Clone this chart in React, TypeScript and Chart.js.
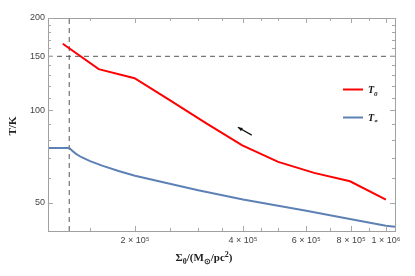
import React, { useEffect, useRef } from "react";
import { Chart, registerables } from "chart.js";

Chart.register(...registerables);

// Data
const redX = [125900, 158500, 199500, 251200, 316200, 398100, 501200, 631000, 794300, 1000000];
const redY = [164.8, 136.2, 127.3, 107.5, 90.7, 76.9, 67.9, 62.5, 58.7, 51.1];
const blueX = [114500, 131200, 133500, 137000, 142000, 150000, 162000, 180000, 200000, 250000, 300000, 400000, 600000, 800000, 1000000, 1060000];
const blueY = [75.4, 75.4, 73.9, 72.1, 70.3, 68.3, 66.0, 63.4, 61.2, 57.6, 54.9, 51.2, 47.0, 44.1, 42.0, 41.7];
const xMin = 114500;
const xMax = 1060000;
const yMin = 40.4;
const yMax = 200;
const vLineX = 131200;
const hLineY = 150;
const xTicks = [200000, 400000, 600000, 800000, 1000000];
const xMinorTicks = [150000, 250000, 300000, 350000, 450000, 500000, 700000, 900000];
const yTicks = [50, 100, 150, 200];
const yMinorTicks = [60, 70, 80, 90, 110, 120, 130, 140, 160, 170, 180, 190];
const arrowTail = { x: 423000, y: 83.0 };
const arrowHead = { x: 387000, y: 88.0 };

const SUP: Record<string, string> = { "0": "⁰", "1": "¹", "2": "²", "3": "³", "4": "⁴", "5": "⁵", "6": "⁶", "7": "⁷", "8": "⁸", "9": "⁹" };

function fmtX(v: number): string {
  const e = Math.floor(Math.log10(v) + 1e-9);
  const m = Math.round(v / Math.pow(10, e));
  return `${m} × 10${String(e).split("").map((c) => SUP[c]).join("")}`;
}

type Seg = { t: string; mode?: "sub" | "sup" };

function drawRich(ctx: CanvasRenderingContext2D, segs: Seg[], cx: number, baseY: number, size: number, style: string, family: string) {
  const fontFor = (s: Seg) => `${style} ${s.mode ? Math.round(size * 0.7) : size}px ${family}`;
  let total = 0;
  for (const s of segs) {
    ctx.font = fontFor(s);
    total += ctx.measureText(s.t).width;
  }
  let x = cx - total / 2;
  for (const s of segs) {
    ctx.font = fontFor(s);
    const dy = s.mode === "sub" ? size * 0.3 : s.mode === "sup" ? -size * 0.4 : 0;
    ctx.fillText(s.t, x, baseY + dy);
    x += ctx.measureText(s.t).width;
  }
}

function drawRichLeft(ctx: CanvasRenderingContext2D, segs: Seg[], x0: number, baseY: number, size: number, style: string, family: string) {
  let x = x0;
  for (const s of segs) {
    ctx.font = `${style} ${s.mode ? Math.round(size * 0.7) : size}px ${family}`;
    const dy = s.mode === "sub" ? size * 0.3 : s.mode === "sup" ? -size * 0.4 : 0;
    ctx.fillText(s.t, x, baseY + dy);
    x += ctx.measureText(s.t).width;
  }
}

const framePlugin = {
  id: "frame",
  afterDraw(chart: any) {
    const { ctx, chartArea: a, scales } = chart;
    const xs = scales.x;
    const ys = scales.y;
    ctx.save();
    // frame
    ctx.strokeStyle = "#a0a0a0";
    ctx.lineWidth = 1;
    ctx.strokeRect(Math.round(a.left) + 0.5, Math.round(a.top) + 0.5, Math.round(a.right - a.left), Math.round(a.bottom - a.top));
    // ticks
    ctx.strokeStyle = "#a8a8a8";
    const tickX = (v: number, len: number) => {
      const px = Math.round(xs.getPixelForValue(v)) + 0.5;
      ctx.beginPath();
      ctx.moveTo(px, a.bottom);
      ctx.lineTo(px, a.bottom - len);
      ctx.moveTo(px, a.top);
      ctx.lineTo(px, a.top + len);
      ctx.stroke();
    };
    const tickY = (v: number, len: number) => {
      const py = Math.round(ys.getPixelForValue(v)) + 0.5;
      ctx.beginPath();
      ctx.moveTo(a.left, py);
      ctx.lineTo(a.left + len, py);
      ctx.moveTo(a.right, py);
      ctx.lineTo(a.right - len, py);
      ctx.stroke();
    };
    xTicks.forEach((v) => tickX(v, 5));
    xMinorTicks.forEach((v) => tickX(v, 3));
    yTicks.forEach((v) => tickY(v, 5));
    yMinorTicks.forEach((v) => tickY(v, 3));

    // arrow
    const tx = xs.getPixelForValue(arrowTail.x);
    const ty = ys.getPixelForValue(arrowTail.y);
    const hx = xs.getPixelForValue(arrowHead.x);
    const hy = ys.getPixelForValue(arrowHead.y);
    ctx.strokeStyle = "#111";
    ctx.fillStyle = "#111";
    ctx.lineWidth = 1.2;
    ctx.beginPath();
    ctx.moveTo(tx, ty);
    ctx.lineTo(hx, hy);
    ctx.stroke();
    const ang = Math.atan2(hy - ty, hx - tx);
    const hl = 5;
    ctx.beginPath();
    ctx.moveTo(hx, hy);
    ctx.lineTo(hx - hl * Math.cos(ang - 0.4), hy - hl * Math.sin(ang - 0.4));
    ctx.lineTo(hx - hl * Math.cos(ang + 0.4), hy - hl * Math.sin(ang + 0.4));
    ctx.closePath();
    ctx.fill();

    // legend
    const lx0 = a.right - 52;
    const lx1 = a.right - 32;
    ctx.lineWidth = 2;
    ctx.strokeStyle = "#ff0000";
    ctx.beginPath();
    ctx.moveTo(lx0, 89.5);
    ctx.lineTo(lx1, 89.5);
    ctx.stroke();
    ctx.strokeStyle = "#5e81b5";
    ctx.beginPath();
    ctx.moveTo(lx0, 117.5);
    ctx.lineTo(lx1, 117.5);
    ctx.stroke();
    ctx.fillStyle = "#111";
    ctx.textBaseline = "alphabetic";
    drawRichLeft(ctx, [{ t: "T" }, { t: "0", mode: "sub" }], lx1 + 5, 92.5, 10, "italic bold", "'Liberation Serif', serif");
    drawRichLeft(ctx, [{ t: "T" }, { t: "*", mode: "sub" }], lx1 + 5, 120.5, 10, "italic bold", "'Liberation Serif', serif");

    // axis titles
    ctx.fillStyle = "#222";
    drawRich(
      ctx,
      [{ t: "Σ" }, { t: "0", mode: "sub" }, { t: "/(M" }, { t: "⊙", mode: "sub" }, { t: "/pc" }, { t: "2", mode: "sup" }, { t: ")" }],
      204,
      261,
      11,
      "bold",
      "'Liberation Serif', serif"
    );
    ctx.save();
    ctx.translate(16, 126);
    ctx.rotate(-Math.PI / 2);
    drawRich(ctx, [{ t: "T/K" }], 0, 0, 11, "bold", "'Liberation Serif', serif");
    ctx.restore();
    ctx.restore();
  },
};

export default function App() {
  const ref = useRef<HTMLCanvasElement | null>(null);
  useEffect(() => {
    if (!ref.current) return;
    const dash = { borderColor: "#555", borderWidth: 1, borderDash: [5, 4], pointRadius: 0, fill: false, tension: 0 };
    const chart = new Chart(ref.current, {
      type: "line",
      data: {
        datasets: [
          {
            label: "T0",
            data: redX.map((x, i) => ({ x, y: redY[i] })),
            borderColor: "#ff0000",
            borderWidth: 2,
            pointRadius: 0,
            tension: 0,
            fill: false,
          },
          {
            label: "T*",
            data: blueX.map((x, i) => ({ x, y: blueY[i] })),
            borderColor: "#5e81b5",
            borderWidth: 2,
            pointRadius: 0,
            tension: 0,
            fill: false,
          },
          { label: "v", data: [{ x: vLineX, y: yMin }, { x: vLineX, y: yMax }], ...dash },
          { label: "h", data: [{ x: xMin, y: hLineY }, { x: xMax, y: hLineY }], ...dash },
        ],
      },
      options: {
        animation: false,
        responsive: false,
        layout: { padding: { left: 0, top: 18, right: 20, bottom: 0 } },
        plugins: { legend: { display: false }, tooltip: { enabled: false } },
        scales: {
          x: {
            type: "logarithmic",
            min: xMin,
            max: xMax,
            grid: { display: false, drawTicks: false },
            border: { display: false },
            afterBuildTicks: (s: any) => {
              s.ticks = xTicks.map((v) => ({ value: v }));
            },
            afterFit: (s: any) => {
              s.height = 45;
            },
            ticks: {
              autoSkip: false,
              maxRotation: 0,
              padding: 4,
              color: "#444",
              font: { family: "'Liberation Sans', sans-serif", size: 9 },
              callback: (v: any) => fmtX(Number(v)),
            },
          },
          y: {
            type: "logarithmic",
            min: yMin,
            max: yMax,
            grid: { display: false, drawTicks: false },
            border: { display: false },
            afterBuildTicks: (s: any) => {
              s.ticks = yTicks.map((v) => ({ value: v }));
            },
            afterFit: (s: any) => {
              s.width = 48;
            },
            ticks: {
              autoSkip: false,
              padding: 3,
              color: "#444",
              font: { family: "'Liberation Sans', sans-serif", size: 9 },
              callback: (v: any) => String(v),
            },
          },
        },
      },
      plugins: [framePlugin],
    } as any);
    return () => chart.destroy();
  }, []);
  return (
    <div style={{ position: "fixed", left: 0, top: 0, width: 415, height: 276, background: "#fff" }}>
      <canvas ref={ref} width={415} height={276} />
    </div>
  );
}
